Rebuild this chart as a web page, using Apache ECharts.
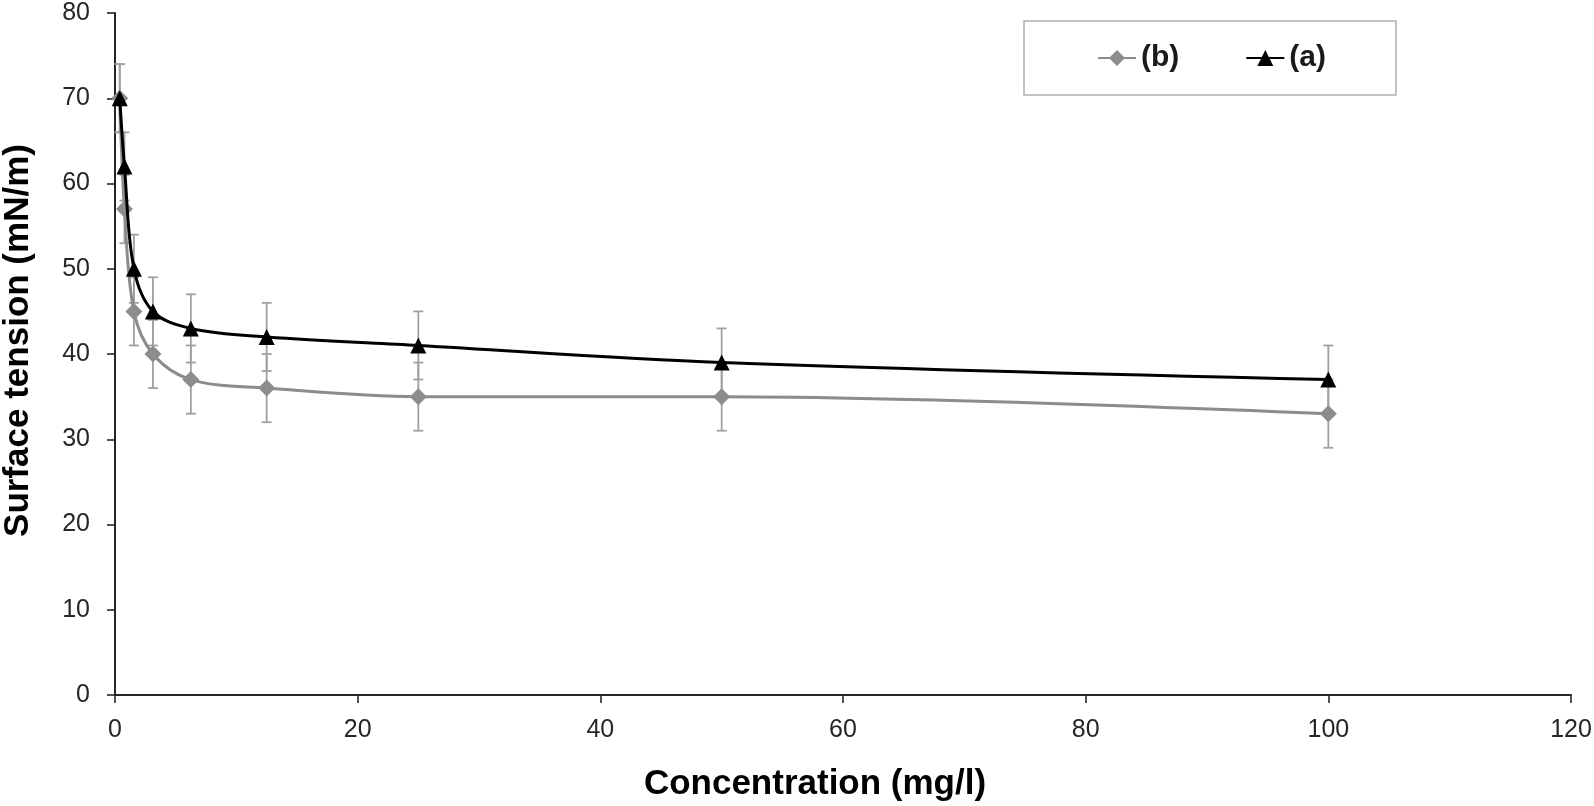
<!DOCTYPE html>
<html>
<head>
<meta charset="utf-8">
<script src="https://cdn.jsdelivr.net/npm/echarts@6/dist/echarts.min.js"></script>
<style>
html,body{margin:0;padding:0;background:#fff;}
#chart{width:1594px;height:806px;}
</style>
</head>
<body>
<div id="chart"></div>
<script>
// Data
var concentration = [0.39, 0.78, 1.56, 3.125, 6.25, 12.5, 25, 50, 100];
var tensionA = [70, 62, 50, 45, 43, 42, 41, 39, 37];
var tensionB = [70, 57, 45, 40, 37, 36, 35, 35, 33];
var errorA = [4, 4, 4, 4, 4, 4, 4, 4, 4];
var errorB = [4, 4, 4, 4, 4, 4, 4, 4, 4];
var xTicks = [0, 20, 40, 60, 80, 100, 120];
var yTicks = [0, 10, 20, 30, 40, 50, 60, 70, 80];

function pairs(xs, ys) { return xs.map(function (x, i) { return [x, ys[i]]; }); }
function errData(xs, ys, es) { return xs.map(function (x, i) { return [x, ys[i] - es[i], ys[i] + es[i]]; }); }

function errRender(params, api) {
  var x = api.value(0);
  var lo = api.coord([x, api.value(1)]);
  var hi = api.coord([x, api.value(2)]);
  var w = 5;
  var st = { stroke: '#a0a0a0', lineWidth: 1.8 };
  return {
    type: 'group',
    children: [
      { type: 'line', shape: { x1: lo[0], y1: lo[1], x2: hi[0], y2: hi[1] }, style: st },
      { type: 'line', shape: { x1: lo[0] - w, y1: lo[1], x2: lo[0] + w, y2: lo[1] }, style: st },
      { type: 'line', shape: { x1: hi[0] - w, y1: hi[1], x2: hi[0] + w, y2: hi[1] }, style: st }
    ]
  };
}

var chart = echarts.init(document.getElementById('chart'));
var axisFont = { fontFamily: 'Liberation Sans, Arial, sans-serif', fontSize: 25, color: '#262626' };
chart.setOption({
  animation: false,
  backgroundColor: '#fff',
  grid: { left: 115, right: 23, top: 13, bottom: 111, containLabel: false, outerBoundsMode: 'none' },
  legend: {
    left: 1024, top: 21,
    data: ['(b)', '(a)'],
    itemWidth: 38, itemHeight: 20, itemGap: 66,
    padding: [20, 70, 20, 73],
    borderColor: '#b0b0b0', borderWidth: 1.5,
    textStyle: { fontFamily: 'Liberation Sans, Arial, sans-serif', fontSize: 30, fontWeight: 'bold', color: '#1a1a1a', lineHeight: 34 }
  },
  xAxis: {
    type: 'value', min: 0, max: 120, interval: 20,
    name: 'Concentration (mg/l)', nameLocation: 'middle', nameGap: 72,
    nameTextStyle: { fontFamily: 'Liberation Sans, Arial, sans-serif', fontSize: 35, fontWeight: 'bold', color: '#000', padding: [0, 56, 0, 0] },
    axisLine: { lineStyle: { color: '#262626', width: 2 } },
    axisTick: { show: true, length: 8, lineStyle: { color: '#262626', width: 1.6 } },
    axisLabel: Object.assign({ margin: 23, formatter: function (v) { return xTicks.indexOf(v) >= 0 ? String(v) : ''; } }, axisFont),
    splitLine: { show: false }
  },
  yAxis: {
    type: 'value', min: 0, max: 80, interval: 10,
    name: 'Surface tension (mN/m)', nameLocation: 'middle', nameGap: 79, nameRotate: 90,
    nameTextStyle: { fontFamily: 'Liberation Sans, Arial, sans-serif', fontSize: 35, fontWeight: 'bold', color: '#000', padding: [0, 0, 0, 27] },
    axisLine: { show: true, lineStyle: { color: '#262626', width: 2 } },
    axisTick: { show: true, length: 8, lineStyle: { color: '#262626', width: 1.6 } },
    axisLabel: Object.assign({ margin: 25, formatter: function (v) { return yTicks.indexOf(v) >= 0 ? String(v) : ''; } }, axisFont),
    splitLine: { show: false }
  },
  series: [
    { type: 'custom', name: 'errB', renderItem: errRender, data: errData(concentration, tensionB, errorB), z: 1, silent: true },
    { type: 'custom', name: 'errA', renderItem: errRender, data: errData(concentration, tensionA, errorA), z: 1, silent: true },
    {
      type: 'line', name: '(b)', data: pairs(concentration, tensionB), smooth: 0.35,
      symbol: 'diamond', symbolSize: 17, showAllSymbol: true,
      lineStyle: { color: '#8c8c8c', width: 3 },
      itemStyle: { color: '#8c8c8c' }, z: 3
    },
    {
      type: 'line', name: '(a)', data: pairs(concentration, tensionA), smooth: 0.35,
      symbol: 'triangle', symbolSize: 16, showAllSymbol: true,
      lineStyle: { color: '#000', width: 3 },
      itemStyle: { color: '#000' }, z: 4
    }
  ]
});
</script>
</body>
</html>
